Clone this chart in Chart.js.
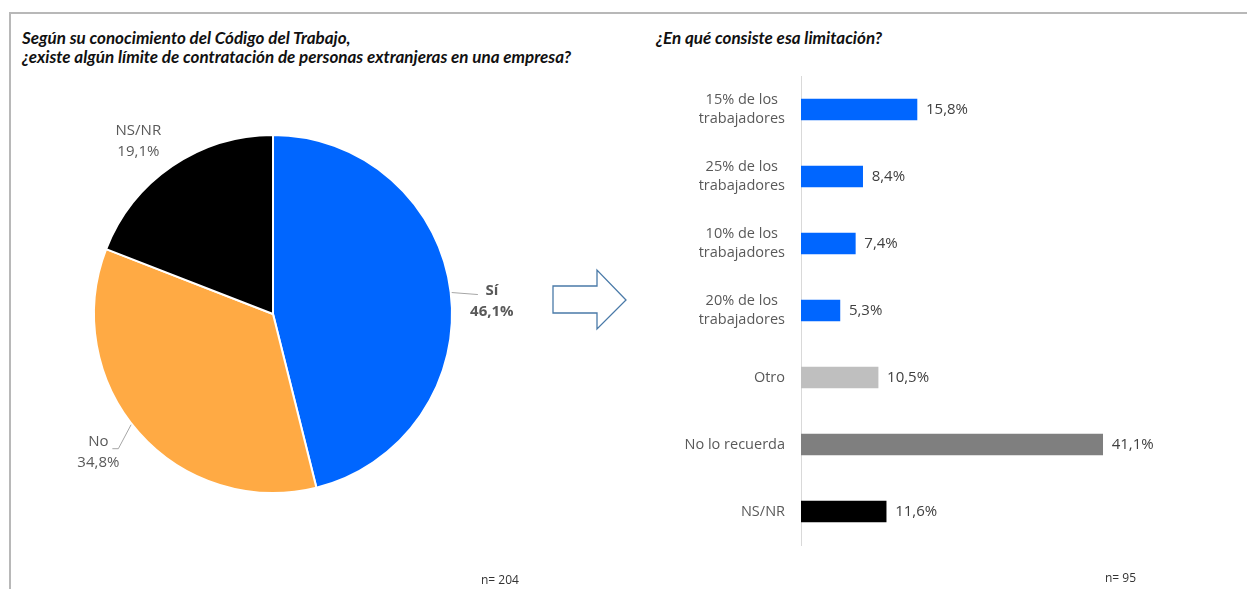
<!DOCTYPE html>
<html lang="es">
<head>
  <meta charset="UTF-8" />
  <title>Límite de contratación de extranjeros</title>
  <script src="https://cdn.jsdelivr.net/npm/chart.js"></script>
  <style>
    body {
      margin: 0;
      width: 1247px;
      height: 589px;
      overflow: hidden;
      background: #fff;
      font-family: "Open Sans", sans-serif;
      position: relative;
    }
    .frame {
      position: absolute;
      left: 9px;
      top: 12px;
      width: 1250px;
      height: 600px;
      border-top: 2px solid #b8b8b8;
      border-left: 2px solid #b8b8b8;
    }
    .title {
      position: absolute;
      font-family: Lato, sans-serif;
      font-weight: bold;
      font-style: italic;
      font-size: 17px;
      line-height: 19px;
      color: #111;
    }
    .n {
      position: absolute;
      font-family: "Open Sans", sans-serif;
      font-size: 12px;
      color: #333;
    }
    #pieBox { position: absolute; left: 13px; top: 54px; width: 520px; height: 520px; }
    #barBox { position: absolute; left: 620px; top: 0; width: 627px; height: 589px; }
    #arrow { position: absolute; left: 550px; top: 266px; }
  </style>
</head>
<body>
  <div class="frame"></div>
  <div class="title" style="left:22px; top:28px;">Según su conocimiento del Código del Trabajo,<br>¿existe algún límite de contratación de personas extranjeras en una empresa?</div>
  <div class="title" style="left:656px; top:28px;">¿En qué consiste esa limitación?</div>
  <div id="pieBox"><canvas id="pie"></canvas></div>
  <div id="barBox"><canvas id="bar"></canvas></div>
  <svg id="arrow" width="80" height="68">
    <polygon points="3,20 47,20 47,4 76,34 47,63 47,47 3,47" fill="#fff" stroke="#4a7aa8" stroke-width="1.3" />
  </svg>
  <div class="n" style="left:481px; top:571px;">n= 204</div>
  <div class="n" style="left:1105px; top:569px;">n= 95</div>
  <script>
    // pie: conocimiento del límite
    const pieLabels = ["Sí", "No", "NS/NR"];
    const pieValues = [46.1, 34.8, 19.1];
    const pieColors = ["#0066ff", "#ffaa44", "#000000"];

    // barras: en qué consiste
    const barLabels = [
      ["15% de los", "trabajadores"],
      ["25% de los", "trabajadores"],
      ["10% de los", "trabajadores"],
      ["20% de los", "trabajadores"],
      "Otro",
      "No lo recuerda",
      "NS/NR"
    ];
    const barValues = [15.8, 8.4, 7.4, 5.3, 10.5, 41.1, 11.6];
    const barColors = ["#0066ff", "#0066ff", "#0066ff", "#0066ff", "#bfbfbf", "#7f7f7f", "#000000"];

    const fmt = v => v.toFixed(1).replace(".", ",") + "%";

    // small angle nudges so labels sit where Excel put them
    const labelNudge = [3.5, 2.5, -3.5];

    const pieLabelPlugin = {
      id: "pieLabels",
      afterDatasetsDraw(chart) {
        const ctx = chart.ctx;
        const arcs = chart.getDatasetMeta(0).data;
        ctx.save();
        ctx.textAlign = "center";
        ctx.textBaseline = "middle";
        arcs.forEach((arc, i) => {
          const mid = (arc.startAngle + arc.endAngle) / 2;
          const la = mid + labelNudge[i] * Math.PI / 180;
          const r = arc.outerRadius;
          const lr = r * 1.225;
          const x = arc.x + Math.cos(la) * lr - (i === 1 ? 4 : 0);
          const y = arc.y + Math.sin(la) * lr;
          const bold = i === 0;
          if (i === 0 || i === 1) {
            ctx.strokeStyle = "#a6a6a6";
            ctx.lineWidth = 1;
            ctx.beginPath();
            if (i === 0) {
              const ey = y - 8;
              const ex = arc.x + Math.sqrt(r * r - (ey - arc.y) ** 2);
              ctx.moveTo(ex + 1, ey);
              ctx.lineTo(x - 14, y - 6);
            } else {
              const ex = arc.x + Math.cos(mid + 0.06) * (r + 1);
              const ey = arc.y + Math.sin(mid + 0.06) * (r + 1);
              ctx.moveTo(ex, ey);
              ctx.lineTo(x + 20, y - 3);
              ctx.lineTo(x + 14, y - 3);
            }
            ctx.stroke();
          }
          ctx.fillStyle = "#595959";
          ctx.font = (bold ? "bold " : "") + "15px 'Open Sans', sans-serif";
          ctx.fillText(pieLabels[i], x, y - 10);
          ctx.fillText(fmt(pieValues[i]), x, y + 11);
        });
        ctx.restore();
      }
    };

    new Chart(document.getElementById("pie"), {
      type: "pie",
      data: {
        labels: pieLabels,
        datasets: [{
          data: pieValues,
          backgroundColor: pieColors,
          borderColor: "#ffffff",
          borderWidth: 2
        }]
      },
      options: {
        responsive: true,
        maintainAspectRatio: false,
        animation: false,
        layout: { padding: 80 },
        plugins: { legend: { display: false }, tooltip: { enabled: false } }
      },
      plugins: [pieLabelPlugin]
    });

    const barLabelPlugin = {
      id: "barLabels",
      afterDatasetsDraw(chart) {
        const ctx = chart.ctx;
        ctx.save();
        ctx.fillStyle = "#404040";
        ctx.font = "15px 'Open Sans', sans-serif";
        ctx.textAlign = "left";
        ctx.textBaseline = "middle";
        chart.getDatasetMeta(0).data.forEach((bar, i) => {
          ctx.fillText(fmt(barValues[i]), bar.x + 9, bar.y);
        });
        ctx.restore();
      }
    };

    // category labels: block right-aligned to the axis, lines centred inside the block
    const catLabelPlugin = {
      id: "catLabels",
      afterDraw(chart) {
        const ctx = chart.ctx;
        const scale = chart.scales.y;
        const right = scale.right - 16;
        const lh = 19.5;
        ctx.save();
        ctx.fillStyle = "#595959";
        ctx.font = "14.5px 'Open Sans', sans-serif";
        ctx.textAlign = "center";
        ctx.textBaseline = "middle";
        barLabels.forEach((lab, i) => {
          const lines = Array.isArray(lab) ? lab : [lab];
          const w = Math.max(...lines.map(l => ctx.measureText(l).width));
          const cx = right - w / 2;
          const cy = scale.getPixelForTick(i);
          lines.forEach((l, j) => {
            ctx.fillText(l, cx, cy + (j - (lines.length - 1) / 2) * lh);
          });
        });
        ctx.restore();
      }
    };

    new Chart(document.getElementById("bar"), {
      type: "bar",
      data: {
        labels: barLabels,
        datasets: [{
          data: barValues,
          backgroundColor: barColors,
          barThickness: 21
        }]
      },
      options: {
        indexAxis: "y",
        responsive: true,
        maintainAspectRatio: false,
        animation: false,
        layout: { padding: { top: 76, bottom: 44, left: 0, right: 79 } },
        scales: {
          x: { display: false, min: 0, max: 50 },
          y: {
            afterFit(scale) { scale.width = 181; },
            grid: { display: false, drawTicks: false },
            border: { display: true, color: "#d9d9d9", width: 1 },
            ticks: { display: false }
          }
        },
        plugins: { legend: { display: false }, tooltip: { enabled: false } }
      },
      plugins: [barLabelPlugin, catLabelPlugin]
    });
  </script>
</body>
</html>
